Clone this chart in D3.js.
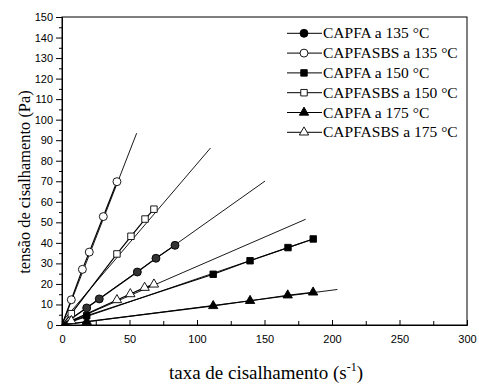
<!DOCTYPE html>
<html>
<head>
<meta charset="utf-8">
<script src="https://cdn.jsdelivr.net/npm/d3@7"></script>
<style>
  html, body { margin: 0; padding: 0; background: #fff; }
  svg { display: block; }
  .serif { font-family: 'Liberation Serif', 'Times New Roman', serif; }
</style>
</head>
<body>
<svg id="chart" width="479" height="384"></svg>
<script>
// Series names and marker styles
const seriesNames = ["CAPFA a 135 °C", "CAPFASBS a 135 °C", "CAPFA a 150 °C",
                     "CAPFASBS a 150 °C", "CAPFA a 175 °C", "CAPFASBS a 175 °C"];
const seriesShapes = ["circle", "circle", "square", "square", "triangle", "triangle"];
const seriesFilled = [true, false, true, false, true, false];

// Shear rate (s^-1) and shear stress (Pa) for each series
const xCapfa135 = [18.3, 27.6, 55.8, 69.6, 83.7];
const yCapfa135 = [8.3, 12.7, 25.8, 32.5, 38.8];
const xSbs135 = [6.9, 15.1, 20.2, 30.6, 40.7];
const ySbs135 = [12.3, 27.1, 35.5, 52.8, 69.8];
const xCapfa150 = [18.3, 112, 139.3, 167.4, 186.1];
const yCapfa150 = [4.5, 24.7, 31.3, 37.7, 41.9];
const xSbs150 = [6.9, 40.7, 51.1, 61.5, 68.1];
const ySbs150 = [5.5, 34.6, 43.2, 51.6, 56.4];
const xCapfa175 = [18.3, 112, 139.3, 167.2, 186];
const yCapfa175 = [1.6, 9.3, 11.8, 14.5, 15.9];
const xSbs175 = [6.9, 40.7, 50.6, 61.2, 68.1];
const ySbs175 = [2.0, 12.2, 15.1, 18.2, 19.8];

// Fitted straight lines (start and end points) for each series
const fitX0 = [0, 0, 0, 0, 0, 0];
const fitY0 = [0, 0, 0, 1.5, 0, 0];
const fitX1 = [150.4, 55.3, 186.1, 110, 204, 180.5];
const fitY1 = [70.1, 93.4, 41.9, 86.2, 17.3, 51.5];

// Axis ticks
const xTicks = [0, 50, 100, 150, 200, 250, 300];
const xMinorTicks = [25, 75, 125, 175, 225, 275];
const yTicks = [0, 10, 20, 30, 40, 50, 60, 70, 80, 90, 100, 110, 120, 130, 140, 150];
const yMinorTicks = d3.range(5, 150, 10);

const xs = [xCapfa135, xSbs135, xCapfa150, xSbs150, xCapfa175, xSbs175];
const ys = [yCapfa135, ySbs135, yCapfa150, ySbs150, yCapfa175, ySbs175];

const series = seriesNames.map((name, i) => ({
  name,
  shape: seriesShapes[i],
  filled: seriesFilled[i],
  points: [{x: 0, y: 0}].concat(xs[i].map((x, j) => ({x, y: ys[i][j]}))),
  fit: [{x: fitX0[i], y: fitY0[i]}, {x: fitX1[i], y: fitY1[i]}]
}));

const svg = d3.select("#chart");
const plotLeft = 62, plotRight = 467, plotTop = 17, plotBottom = 325;

const x = d3.scaleLinear().domain([0, 300]).range([plotLeft, plotRight]);
const y = d3.scaleLinear().domain([0, 150]).range([plotBottom, plotTop]);

const symbolType = { circle: d3.symbolCircle, square: d3.symbolSquare, triangle: d3.symbolTriangle };
const symbolSize = { circle: 50, square: 42, triangle: 38 };

// Frame
svg.append("rect")
  .attr("x", plotLeft).attr("y", plotTop)
  .attr("width", plotRight - plotLeft).attr("height", plotBottom - plotTop)
  .attr("fill", "none").attr("stroke", "#000").attr("stroke-width", 1);

// Bottom axis: ticks point inward
svg.append("g").attr("transform", `translate(0,${plotBottom})`)
  .call(d3.axisBottom(x).tickValues(xTicks).tickSize(-5).tickPadding(10).tickFormat(d3.format("d")));
svg.append("g").attr("transform", `translate(0,${plotBottom})`)
  .call(d3.axisBottom(x).tickValues(xMinorTicks).tickSize(-4).tickFormat(""))
  .call(g => g.select(".domain").remove());

// Left axis: ticks point outward
svg.append("g").attr("transform", `translate(${plotLeft},0)`)
  .call(d3.axisLeft(y).tickValues(yTicks).tickSize(6).tickPadding(3).tickFormat(d3.format("d")));
svg.append("g").attr("transform", `translate(${plotLeft},0)`)
  .call(d3.axisLeft(y).tickValues(yMinorTicks).tickSize(3).tickFormat(""))
  .call(g => g.select(".domain").remove());

svg.selectAll(".domain").attr("stroke", "#000");
svg.selectAll(".tick line").attr("stroke", "#000");
svg.selectAll(".tick text")
  .attr("fill", "#000")
  .style("font-family", "'Liberation Sans', Arial, sans-serif")
  .style("font-size", "11px");

// Axis titles
const xTitle = svg.append("text")
  .attr("class", "serif")
  .attr("x", 266).attr("y", 379)
  .attr("text-anchor", "middle")
  .style("font-size", "19px");
xTitle.append("tspan").text("taxa de cisalhamento (s");
xTitle.append("tspan").attr("dy", -8).style("font-size", "12px").text("-1");
xTitle.append("tspan").attr("dy", 8).text(")");

svg.append("text")
  .attr("class", "serif")
  .attr("transform", "translate(30,182) rotate(-90)")
  .attr("text-anchor", "middle")
  .style("font-size", "16.4px")
  .text("tensão de cisalhamento (Pa)");

const plot = svg.append("g");
const line = d3.line().x(d => x(d.x)).y(d => y(d.y));

// Fitted lines
plot.selectAll(".fit").data(series).join("path")
  .attr("class", "fit")
  .attr("d", d => line(d.fit))
  .attr("fill", "none").attr("stroke", "#000").attr("stroke-width", 0.9);

// Connected data lines
plot.selectAll(".conn").data(series).join("path")
  .attr("class", "conn")
  .attr("d", d => line(d.points))
  .attr("fill", "none").attr("stroke", "#000").attr("stroke-width", 1.2);

// Markers
series.forEach(s => {
  const sym = d3.symbol().type(symbolType[s.shape]).size(symbolSize[s.shape]);
  plot.append("g").selectAll("path").data(s.points.slice(1)).join("path")
    .attr("transform", d => `translate(${x(d.x)},${y(d.y)})`)
    .attr("d", sym)
    .attr("fill", s.filled ? (s.shape === "circle" ? "#333" : "#000") : "#fff")
    .attr("stroke", "#000").attr("stroke-width", 0.9);
});

// Legend
const legend = svg.append("g");
const legendY0 = 33.3, legendStep = 19.8;
series.forEach((s, i) => {
  const ly = legendY0 + i * legendStep;
  legend.append("line")
    .attr("x1", 287).attr("x2", 322).attr("y1", ly).attr("y2", ly)
    .attr("stroke", "#000").attr("stroke-width", 1);
  legend.append("path")
    .attr("transform", `translate(304,${ly})`)
    .attr("d", d3.symbol().type(symbolType[s.shape]).size(symbolSize[s.shape]))
    .attr("fill", s.filled ? "#000" : "#fff")
    .attr("stroke", "#000").attr("stroke-width", 0.9);
  legend.append("text")
    .attr("class", "serif")
    .attr("x", 323).attr("y", ly + 5)
    .style("font-size", "15.5px")
    .text(s.name);
});
</script>
</body>
</html>
